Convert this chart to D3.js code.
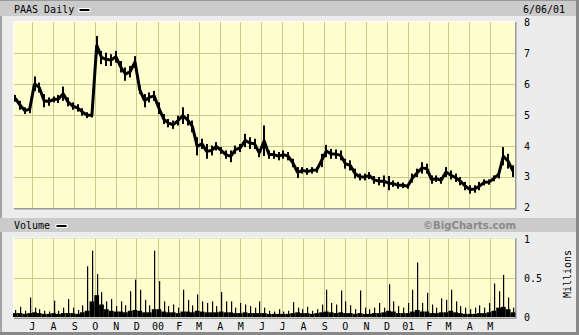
<!DOCTYPE html>
<html>
<head>
<meta charset="utf-8">
<script src="https://cdn.jsdelivr.net/npm/d3@7"></script>
<style>
  body { margin: 0; background: #ececec; }
  text { font-family: "DejaVu Sans Mono", monospace; font-size: 10px; fill: #000; }
</style>
</head>
<body>
<svg id="chart" width="579" height="335"></svg>
<script>
// weekly samples, first week starts 7 Jun 1999
const startDate = new Date(1999, 5, 7);

// weekly high / low of PAAS
const priceHigh = [5.65, 5.46, 5.25, 5.32, 6.25, 6.05, 5.68, 5.57, 5.60, 5.65,
  5.92, 5.57, 5.41, 5.35, 5.22, 5.09, 5.06, 7.56, 7.08, 7.02,
  6.97, 7.08, 6.75, 6.54, 6.59, 6.91, 5.95, 5.68, 5.73, 5.78,
  5.41, 5.03, 4.87, 4.82, 4.98, 5.25, 5.03, 4.82, 4.28, 4.23,
  4.06, 4.01, 4.12, 3.96, 3.85, 3.85, 4.01, 4.06, 4.39, 4.28,
  4.23, 3.90, 4.66, 3.85, 3.85, 3.80, 3.85, 3.80, 3.58, 3.31,
  3.31, 3.28, 3.31, 3.31, 3.74, 4.03, 3.90, 3.88, 3.85, 3.58,
  3.53, 3.26, 3.10, 3.10, 3.15, 3.02, 2.99, 3.04, 3.02, 2.88,
  2.83, 2.81, 2.77, 3.10, 3.26, 3.47, 3.42, 3.04, 3.04, 2.99,
  3.31, 3.20, 3.10, 2.99, 2.83, 2.72, 2.72, 2.83, 2.91, 2.91,
  3.04, 3.20, 3.96, 3.74, 3.37];
const priceLow = [5.43, 5.17, 5.03, 5.06, 5.78, 5.73, 5.25, 5.30, 5.41, 5.39,
  5.46, 5.28, 5.17, 5.11, 4.98, 4.90, 4.92, 6.97, 6.65, 6.59,
  6.59, 6.70, 6.38, 6.11, 6.22, 6.54, 5.68, 5.25, 5.41, 5.46,
  5.03, 4.71, 4.60, 4.55, 4.66, 4.71, 4.66, 4.44, 3.69, 3.90,
  3.58, 3.69, 3.85, 3.74, 3.58, 3.47, 3.74, 3.80, 3.96, 3.90,
  3.90, 3.63, 3.67, 3.58, 3.58, 3.53, 3.58, 3.53, 3.31, 2.96,
  3.10, 3.06, 3.10, 3.13, 3.31, 3.63, 3.58, 3.58, 3.53, 3.26,
  3.20, 2.94, 2.88, 2.88, 2.92, 2.77, 2.72, 2.67, 2.56, 2.67,
  2.61, 2.63, 2.61, 2.81, 2.99, 3.10, 3.10, 2.77, 2.83, 2.77,
  2.99, 2.91, 2.83, 2.72, 2.56, 2.45, 2.48, 2.56, 2.72, 2.74,
  2.85, 2.94, 3.37, 3.26, 2.99];

// weekly volume in millions: usual daily level and the biggest day
const volBase = [0.05, 0.05, 0.04, 0.05, 0.06, 0.05, 0.04, 0.04, 0.05, 0.04,
  0.05, 0.05, 0.05, 0.04, 0.06, 0.08, 0.20, 0.28, 0.16, 0.10,
  0.08, 0.07, 0.07, 0.06, 0.08, 0.09, 0.08, 0.06, 0.06, 0.10,
  0.10, 0.07, 0.06, 0.06, 0.05, 0.07, 0.07, 0.06, 0.08, 0.07,
  0.06, 0.06, 0.06, 0.07, 0.06, 0.06, 0.05, 0.05, 0.06, 0.05,
  0.05, 0.05, 0.05, 0.04, 0.04, 0.04, 0.04, 0.04, 0.05, 0.06,
  0.05, 0.05, 0.04, 0.05, 0.06, 0.07, 0.06, 0.05, 0.06, 0.05,
  0.05, 0.04, 0.05, 0.04, 0.04, 0.05, 0.05, 0.06, 0.08, 0.07,
  0.05, 0.05, 0.05, 0.07, 0.09, 0.07, 0.07, 0.05, 0.05, 0.06,
  0.06, 0.08, 0.06, 0.05, 0.04, 0.04, 0.04, 0.05, 0.05, 0.06,
  0.08, 0.12, 0.13, 0.10, 0.06];
const volPeak = [0.09, 0.13, 0.08, 0.25, 0.12, 0.10, 0.08, 0.07, 0.21, 0.08,
  0.12, 0.23, 0.12, 0.09, 0.15, 0.65, 0.85, 0.55, 0.32, 0.20,
  0.23, 0.14, 0.20, 0.15, 0.33, 0.48, 0.35, 0.22, 0.15, 0.85,
  0.46, 0.20, 0.14, 0.16, 0.12, 0.35, 0.22, 0.15, 0.29, 0.20,
  0.18, 0.20, 0.14, 0.32, 0.20, 0.20, 0.12, 0.18, 0.16, 0.14,
  0.12, 0.20, 0.12, 0.08, 0.07, 0.10, 0.07, 0.08, 0.19, 0.12,
  0.10, 0.13, 0.08, 0.10, 0.16, 0.35, 0.18, 0.16, 0.34, 0.20,
  0.15, 0.10, 0.34, 0.12, 0.10, 0.12, 0.18, 0.12, 0.42, 0.20,
  0.14, 0.12, 0.18, 0.35, 0.70, 0.18, 0.31, 0.16, 0.12, 0.24,
  0.22, 0.35, 0.20, 0.14, 0.12, 0.10, 0.12, 0.15, 0.12, 0.18,
  0.43, 0.33, 0.54, 0.25, 0.12];

const priceTicks = [2, 3, 4, 5, 6, 7, 8];
const volTicks = [0, 0.5, 1];
const monthNames = ["J", "F", "M", "A", "M", "J", "J", "A", "S", "O", "N", "D"];

const W = 579, H = 335;
const plotL = 14, plotR = 515;
const price = { top: 22.5, bottom: 207.5 };
const vol = { top: 239, bottom: 317 };

const svg = d3.select("#chart");
const dates = priceHigh.map((d, i) => d3.timeDay.offset(startDate, 7 * i));

const x = d3.scaleTime()
  .domain([new Date(1999, 5, 5), new Date(2001, 5, 7)])
  .range([plotL, plotR]);
const yPrice = d3.scaleLinear().domain([2, 8]).range([price.bottom, price.top]);
const yVol = d3.scaleLinear().domain([0, 1]).range([vol.bottom, vol.top]);
const months = d3.timeMonth.range(new Date(1999, 6, 1), new Date(2001, 5, 1));

// frame
svg.append("rect").attr("width", W).attr("height", H).attr("fill", "#ececec");
svg.append("rect").attr("x", 0).attr("y", 16).attr("width", 2).attr("height", H - 16).attr("fill", "#a4a4a4");
svg.append("rect").attr("x", 576).attr("y", 0).attr("width", 3).attr("height", H).attr("fill", "#888");
svg.append("rect").attr("x", 0).attr("y", 332).attr("width", W).attr("height", 3).attr("fill", "#888");

// title bars
function titleBar(y0, h) {
  svg.append("rect").attr("x", 0).attr("y", y0).attr("width", 576).attr("height", h).attr("fill", "#cbcbcb");
}
titleBar(0, 16);
titleBar(218, 14);
svg.append("rect").attr("x", 0).attr("y", 0).attr("width", 576).attr("height", 1).attr("fill", "#999");

function swatch(x0, y0) {
  svg.append("rect").attr("x", x0).attr("y", y0).attr("width", 11).attr("height", 3)
    .attr("fill", "#000").attr("stroke", "#fff").attr("stroke-width", 1);
}
svg.append("text").attr("x", 14).attr("y", 13).text("PAAS Daily");
swatch(79, 8.5);
svg.append("text").attr("x", 523).attr("y", 13).text("6/06/01");
svg.append("text").attr("x", 14).attr("y", 229).text("Volume");
swatch(56, 224.5);
svg.append("text").attr("x", 516).attr("y", 228.5).attr("text-anchor", "end")
  .attr("textLength", 93).attr("lengthAdjust", "spacingAndGlyphs")
  .style("font-family", "'DejaVu Sans', Verdana, sans-serif").style("font-weight", "bold")
  .style("fill", "#8a8a8a").text("\u00A9BigCharts.com");

// plot panels with gridlines
function panel(top, bottom, y, gridVals) {
  svg.append("rect").attr("x", plotL - 1).attr("y", top - 1.5).attr("width", plotR - plotL + 1).attr("height", bottom - top + 2)
    .attr("fill", "#fff");
  svg.append("rect").attr("x", plotL).attr("y", top - 0.5).attr("width", plotR - plotL + 1.5).attr("height", bottom - top + 2.5)
    .attr("fill", "#9a9a9a");
  svg.append("rect").attr("x", plotL).attr("y", top - 0.5).attr("width", plotR - plotL).attr("height", bottom - top + 1)
    .attr("fill", "#fefece");
  const g = svg.append("g").attr("stroke", "#c9c98e").attr("stroke-width", 1);
  g.selectAll("line.h").data(gridVals).join("line")
    .attr("x1", plotL).attr("x2", plotR)
    .attr("y1", d => Math.round(y(d)) + 0.5).attr("y2", d => Math.round(y(d)) + 0.5);
  g.selectAll("line.v").data(months).join("line")
    .attr("x1", d => Math.round(x(d)) + 0.5).attr("x2", d => Math.round(x(d)) + 0.5)
    .attr("y1", top - 0.5).attr("y2", bottom + 0.5);
}
panel(price.top, price.bottom, yPrice, [3, 4, 5, 6, 7]);
panel(vol.top, vol.bottom, yVol, [0.5]);

// price: weekly high-low bars joined by a line through the mid of each range
const mid = priceHigh.map((h, i) => (h + priceLow[i]) / 2);
const midLine = d3.line()
  .x((d, i) => x(dates[i]))
  .y(d => yPrice(d));
svg.append("path").datum(mid).attr("d", midLine)
  .attr("fill", "none").attr("stroke", "#000").attr("stroke-width", 3).attr("stroke-linejoin", "bevel");
svg.append("g").selectAll("rect").data(priceHigh).join("rect")
  .attr("x", (d, i) => Math.round(x(dates[i])) - 1)
  .attr("width", 2)
  .attr("y", d => yPrice(d))
  .attr("height", (d, i) => yPrice(priceLow[i]) - yPrice(d))
  .attr("fill", "#000");

// volume bars
const wk = x(d3.timeDay.offset(startDate, 7)) - x(startDate);
svg.append("g").selectAll("rect").data(volBase).join("rect")
  .attr("x", (d, i) => x(dates[i]) - wk / 2)
  .attr("width", wk)
  .attr("y", d => yVol(d))
  .attr("height", d => yVol(0) - yVol(d))
  .attr("fill", "#000");
svg.append("g").selectAll("rect").data(volPeak).join("rect")
  .attr("x", (d, i) => Math.round(x(dates[i])))
  .attr("width", 1.2)
  .attr("y", d => yVol(d))
  .attr("height", d => yVol(0) - yVol(d))
  .attr("fill", "#000");

// right axes
const priceAxis = d3.axisRight(yPrice).tickValues(priceTicks).tickSize(0).tickPadding(9)
  .tickFormat(d3.format("d"));
svg.append("g").attr("transform", `translate(${plotR},0)`).call(priceAxis)
  .call(g => g.select(".domain").remove())
  .selectAll("text").style("font-family", "'DejaVu Sans Mono', monospace").style("font-size", "10px");
const volAxis = d3.axisRight(yVol).tickValues(volTicks).tickSize(0).tickPadding(9)
  .tickFormat(d => d === 0.5 ? "0.5" : d3.format("d")(d));
svg.append("g").attr("transform", `translate(${plotR},0)`).call(volAxis)
  .call(g => g.select(".domain").remove())
  .selectAll("text").style("font-family", "'DejaVu Sans Mono', monospace").style("font-size", "10px");
svg.append("text").attr("transform", "translate(571,274) rotate(-90)").attr("text-anchor", "middle").text("Millions");

// month labels
const monthAxis = d3.axisBottom(x).tickValues(months).tickSize(0).tickPadding(6)
  .tickFormat(d => d.getMonth() === 0 ? d3.timeFormat("%y")(d) : monthNames[d.getMonth()]);
svg.append("g").attr("transform", `translate(0,${vol.bottom})`).call(monthAxis)
  .call(g => g.select(".domain").remove())
  .selectAll("text").style("font-family", "'DejaVu Sans Mono', monospace").style("font-size", "10px");
</script>
</body>
</html>
